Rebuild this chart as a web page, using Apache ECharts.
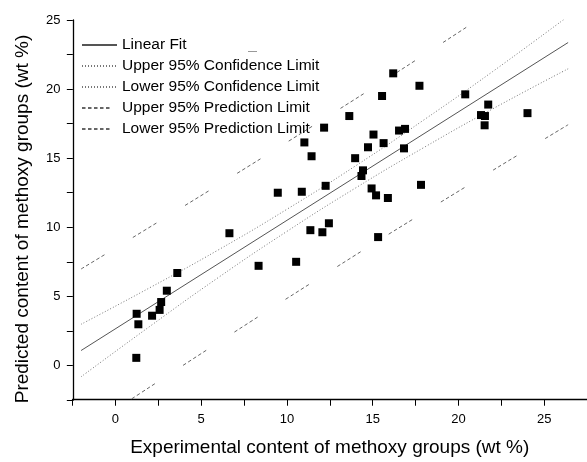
<!DOCTYPE html>
<html lang="en">
<head>
    <meta charset="UTF-8">
    <title>Predicted vs experimental methoxy content</title>
    <style type="text/css">
        html, body { margin: 0; padding: 0; background: #fff; }
        #mountNode { width: 587px; height: 462px; }
    </style>
</head>
<body>
<div id="mountNode"></div>
<script src="https://cdn.jsdelivr.net/npm/echarts@6/dist/echarts.min.js"></script>
<script>
    // measured points (wt %)
    var expX = [1.22, 1.24, 1.34, 2.14, 2.58, 2.67, 3.00, 3.61, 6.65, 8.35, 9.47,
        10.54, 10.87, 11.02, 11.37, 11.44, 12.07, 12.17, 12.26, 12.45, 13.64, 13.98,
        14.35, 14.44, 14.73, 14.94, 15.05, 15.20, 15.32, 15.55, 15.64, 15.89, 16.20,
        16.54, 16.83, 16.89, 17.73, 17.82, 20.40, 21.32, 21.53, 21.55, 21.74, 24.03];
    var predY = [0.55, 3.74, 2.98, 3.60, 4.02, 4.59, 5.41, 6.69, 9.57, 7.21, 12.50,
        7.50, 12.57, 16.14, 9.79, 15.14, 9.64, 17.21, 13.00, 10.29, 18.05, 15.00,
        13.71, 14.12, 15.79, 12.81, 16.71, 12.31, 9.29, 19.50, 16.09, 12.12, 21.14,
        17.00, 15.71, 17.12, 20.24, 13.07, 19.62, 18.12, 17.38, 18.05, 18.88, 18.26];

    // fit and limit curves
    var fitX = [-2, 26.4];
    var fitY = [1.08, 23.37];
    var confX = [-2, 2, 6, 10, 14, 18, 22, 26.4];
    var confUpper = [2.98, 5.62, 8.36, 11.30, 14.44, 17.78, 21.27, 25.27];
    var confLower = [-0.82, 2.82, 6.36, 9.70, 12.84, 15.78, 18.57, 21.47];
    var predX = [-2, 6, 12, 18, 26.4];
    var predUpper = [6.98, 13.06, 17.72, 22.48, 29.32];
    var predLower = [-4.82, 1.66, 6.42, 11.08, 17.42];

    var labelTicks = [0, 5, 10, 15, 20, 25];
    var tickValuesX = [-2.5, 0, 2.5, 5, 7.5, 10, 12.5, 15, 17.5, 20, 22.5, 25, 27.5];
    var tickValuesY = [-2.5, 0, 2.5, 5, 7.5, 10, 12.5, 15, 17.5, 20, 22.5, 25];

    var fontName = '"Liberation Sans", Arial, sans-serif';

    function pairs(xs, ys) {
        var out = [];
        for (var i = 0; i < xs.length; i++) {
            out.push([xs[i], ys[i]]);
        }
        return out;
    }

    var predDash = [3.5, 2.5, 3.5, 2.5, 3.5, 2.5, 3.5, 2.5, 3.5, 33.5];

    var myChart = echarts.init(document.getElementById('mountNode'), null, {renderer: 'canvas'});

    // the helper axes (index 1) only give a zero just inside the grid edge,
    // the main axis lines are pinned to it (a line right on the edge is not drawn)
    var option = {
        animation: false,
        backgroundColor: '#fff',
        textStyle: {fontFamily: fontName},
        grid: {left: 72.5, top: 20, right: -9, bottom: 56.5, containLabel: false},
        legend: {
            orient: 'vertical',
            left: 81,
            top: 37,
            itemWidth: 35,
            itemHeight: 14,
            itemGap: 5,
            padding: 0,
            itemStyle: {opacity: 0},
            textStyle: {fontSize: 15.5, color: '#000', fontFamily: fontName},
            data: ['Linear Fit', 'Upper 95% Confidence Limit', 'Lower 95% Confidence Limit',
                'Upper 95% Prediction Limit', 'Lower 95% Prediction Limit']
        },
        xAxis: [{
            type: 'value',
            min: -2.5,
            max: 27.5,
            name: 'Experimental content of methoxy groups (wt %)',
            nameLocation: 'middle',
            nameGap: 38,
            nameTextStyle: {fontSize: 19, color: '#000', fontFamily: fontName},
            splitLine: {show: false},
            axisLine: {show: true, onZero: true, onZeroAxisIndex: 1, lineStyle: {color: '#000', width: 1.3}},
            axisTick: {show: true, customValues: tickValuesX, length: 6, lineStyle: {color: '#000'}},
            axisLabel: {customValues: labelTicks, fontSize: 13, color: '#000', margin: 13}
        }, {
            type: 'value',
            position: 'bottom',
            min: -0.02,
            max: 29.98,
            splitLine: {show: false},
            axisLine: {show: false},
            axisLabel: {show: false},
            axisTick: {show: false}
        }],
        yAxis: [{
            type: 'value',
            min: -2.5,
            max: 25,
            name: 'Predicted content of methoxy groups (wt %)',
            nameLocation: 'middle',
            nameGap: 40,
            nameTextStyle: {fontSize: 19, color: '#000', fontFamily: fontName, padding: [0, 18, 0, 0]},
            splitLine: {show: false},
            axisLine: {show: true, onZero: true, onZeroAxisIndex: 1, lineStyle: {color: '#000', width: 1.3}},
            axisTick: {show: true, customValues: tickValuesY, length: 6, lineStyle: {color: '#000'}},
            axisLabel: {customValues: labelTicks, fontSize: 13, color: '#000', margin: 12}
        }, {
            type: 'value',
            position: 'left',
            min: -0.02,
            max: 27.48,
            splitLine: {show: false},
            axisLine: {show: false},
            axisLabel: {show: false},
            axisTick: {show: false}
        }],
        graphic: [{
            type: 'line',
            shape: {x1: 248, y1: 51.5, x2: 257, y2: 51.5},
            style: {stroke: '#999', lineWidth: 1}
        }],
        series: [{
            name: 'Linear Fit',
            type: 'line',
            data: pairs(fitX, fitY),
            symbol: 'none',
            lineStyle: {color: '#555', width: 1}
        }, {
            name: 'Upper 95% Confidence Limit',
            type: 'line',
            data: pairs(confX, confUpper),
            smooth: true,
            symbol: 'none',
            lineStyle: {color: '#777', width: 1, type: [1, 2]}
        }, {
            name: 'Lower 95% Confidence Limit',
            type: 'line',
            data: pairs(confX, confLower),
            smooth: true,
            symbol: 'none',
            lineStyle: {color: '#777', width: 1, type: [1, 2]}
        }, {
            name: 'Upper 95% Prediction Limit',
            type: 'line',
            data: pairs(predX, predUpper),
            smooth: true,
            symbol: 'none',
            lineStyle: {color: '#666', width: 1, type: predDash}
        }, {
            name: 'Lower 95% Prediction Limit',
            type: 'line',
            data: pairs(predX, predLower),
            smooth: true,
            symbol: 'none',
            lineStyle: {color: '#666', width: 1, type: predDash}
        }, {
            name: 'data',
            type: 'scatter',
            data: pairs(expX, predY),
            symbol: 'rect',
            symbolSize: 8,
            itemStyle: {color: '#000', opacity: 1},
            z: 5
        }]
    };

    myChart.setOption(option);
</script>
</body>
</html>
